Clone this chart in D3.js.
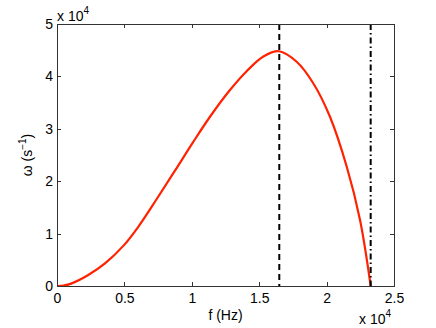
<!DOCTYPE html>
<html>
<head>
<meta charset="utf-8">
<script src="https://cdn.jsdelivr.net/npm/d3@7"></script>
<style>
  html, body { margin: 0; padding: 0; background: white; overflow: hidden; }
  svg { display: block; }
  text { font-family: "Liberation Sans", Arial, Helvetica, sans-serif; }
</style>
</head>
<body>
<div id="chart"></div>
<script>
// values, in units of 1e4
var freq  = [0, 0.05, 0.1, 0.232, 0.356, 0.497, 0.603, 0.74, 0.875, 1.011, 1.135, 1.283, 1.407, 1.531, 1.647, 1.778, 1.901, 2.025, 2.149, 2.248, 2.327];
var omega = [0, 0.01, 0.04, 0.21, 0.43, 0.78, 1.13, 1.66, 2.20, 2.75, 3.23, 3.74, 4.10, 4.38, 4.48, 4.28, 3.87, 3.23, 2.28, 1.26, 0];
var peakF = 1.649;   // dashed line
var cutF = 2.327;    // dash-dot line
var xTicks = [0, 0.5, 1, 1.5, 2, 2.5];
var yTicks = [0, 1, 2, 3, 4, 5];

var w = 436, h = 328;
var fs = 14;
var margin = {top: 24, right: 42, bottom: 42, left: 57};
var innerWidth = w - margin.left - margin.right;
var innerHeight = h - margin.top - margin.bottom;

var svg = d3.select("#chart")
  .append("svg")
    .attr("width", w)
    .attr("height", h);

svg.append("rect")
  .attr("width", w)
  .attr("height", h)
  .attr("fill", "white");

var xScale = d3.scaleLinear().domain([0, 2.5]).range([0, innerWidth]);
var yScale = d3.scaleLinear().domain([0, 5]).range([innerHeight, 0]);

var g = svg.append("g")
  .attr("transform", `translate(${margin.left}, ${margin.top})`);

// curve
var data = freq.map((f, i) => ({f: f, w: omega[i]}));
var line = d3.line()
  .x(d => xScale(d.f))
  .y(d => yScale(d.w))
  .curve(d3.curveCatmullRom.alpha(0.5));

g.append("path")
  .datum(data)
  .attr("d", line)
  .attr("fill", "none")
  .attr("stroke", "#ff2200")
  .attr("stroke-width", 2.2);

// vertical markers
g.append("line")
  .attr("x1", xScale(peakF)).attr("x2", xScale(peakF))
  .attr("y1", 0).attr("y2", innerHeight)
  .attr("stroke", "black")
  .attr("stroke-width", 2)
  .attr("stroke-dasharray", "6,4");

g.append("line")
  .attr("x1", xScale(cutF)).attr("x2", xScale(cutF))
  .attr("y1", 0).attr("y2", innerHeight)
  .attr("stroke", "black")
  .attr("stroke-width", 2)
  .attr("stroke-dasharray", "6,3,1.5,3");

// axes with inner ticks on all sides
function styleAxis(sel) {
  sel.select(".domain").remove();
  sel.selectAll(".tick line").attr("stroke", "#333").attr("shape-rendering", "crispEdges");
  sel.selectAll("text").attr("font-size", fs).attr("fill", "black");
}

g.append("g")
  .attr("transform", `translate(0, ${innerHeight})`)
  .call(d3.axisBottom(xScale).tickValues(xTicks).tickSizeInner(-4).tickSizeOuter(0).tickPadding(7)
    .tickFormat(d => d))
  .call(styleAxis);

g.append("g")
  .call(d3.axisTop(xScale).tickValues(xTicks).tickSizeInner(-4).tickSizeOuter(0))
  .call(styleAxis)
  .call(a => a.selectAll("text").remove());

g.append("g")
  .call(d3.axisLeft(yScale).tickValues(yTicks).tickSizeInner(-4).tickSizeOuter(0).tickPadding(4)
    .tickFormat(d => d))
  .call(styleAxis);

g.append("g")
  .attr("transform", `translate(${innerWidth}, 0)`)
  .call(d3.axisRight(yScale).tickValues(yTicks).tickSizeInner(-4).tickSizeOuter(0))
  .call(styleAxis)
  .call(a => a.selectAll("text").remove());

g.append("rect")
  .attr("width", innerWidth)
  .attr("height", innerHeight)
  .attr("fill", "none")
  .attr("stroke", "#333")
  .attr("shape-rendering", "crispEdges");

// exponent labels
var topExp = svg.append("text")
  .attr("x", margin.left)
  .attr("y", 21)
  .attr("font-size", fs);
topExp.append("tspan").text("x 10");
topExp.append("tspan").attr("font-size", 10).attr("dy", -7).text("4");

var botExp = svg.append("text")
  .attr("x", 359)
  .attr("y", 324)
  .attr("font-size", fs);
botExp.append("tspan").text("x 10");
botExp.append("tspan").attr("font-size", 10).attr("dy", -7).text("4");

// axis labels
svg.append("text")
  .attr("x", margin.left + innerWidth / 2)
  .attr("y", 320)
  .attr("text-anchor", "middle")
  .attr("font-size", fs)
  .text("f (Hz)");

var yl = svg.append("text")
  .attr("transform", `translate(32, ${margin.top + innerHeight / 2}) rotate(-90)`)
  .attr("text-anchor", "middle")
  .attr("font-size", fs);
yl.append("tspan").text("ω (s");
yl.append("tspan").attr("font-size", 10).attr("dy", -6).text("−1");
yl.append("tspan").attr("dy", 6).text(")");
</script>
</body>
</html>
